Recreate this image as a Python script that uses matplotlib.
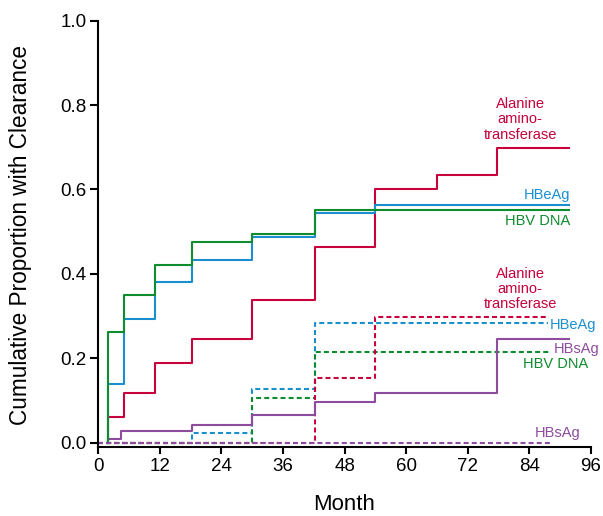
import matplotlib
matplotlib.use("Agg")
import matplotlib.pyplot as plt

plt.rcParams['font.family'] = ['Liberation Sans', 'DejaVu Sans']

# ---- data (months, cumulative proportion) ----
alt_solid_t = [1.8, 1.8, 5, 11, 18.2, 30, 42.2, 54, 66, 77.7, 91.8]
alt_solid_v = [0, 0.061, 0.117, 0.190, 0.246, 0.338, 0.463, 0.600, 0.635, 0.698, 0.698]
hbeag_solid_t = [1.8, 1.8, 5, 11, 18.2, 30, 42.2, 54, 91.8]
hbeag_solid_v = [0, 0.139, 0.292, 0.381, 0.434, 0.488, 0.545, 0.563, 0.563]
hbv_solid_t = [1.8, 1.8, 5, 11, 18.2, 30, 42.2, 91.8]
hbv_solid_v = [0, 0.262, 0.349, 0.422, 0.476, 0.495, 0.552, 0.552]
hbsag_solid_t = [1.8, 1.8, 4.5, 18.2, 30, 42.2, 54, 77.7, 91.8]
hbsag_solid_v = [0, 0.0095, 0.028, 0.041, 0.066, 0.096, 0.118, 0.245, 0.245]

hbeag_dash_t = [0, 18.2, 30, 42.3, 87.7]
hbeag_dash_v = [0, 0.024, 0.128, 0.284, 0.284]
hbv_dash_t = [0, 30, 42.2, 88.3]
hbv_dash_v = [0, 0.107, 0.214, 0.214]
alt_dash_t = [0, 42.2, 54, 87.9]
alt_dash_v = [0, 0.153, 0.297, 0.297]
hbsag_dash_t = [0, 88.5]
hbsag_dash_v = [0, 0]

x_ticks = [0, 12, 24, 36, 48, 60, 72, 84, 96]
y_ticks = [0.0, 0.2, 0.4, 0.6, 0.8, 1.0]
y_tick_labels = ['0.0', '0.2', '0.4', '0.6', '0.8', '1.0']

RED = '#C8003C'
BLUE = '#1A8FD0'
GREEN = '#0E8C2E'
PURPLE = '#8E4C9E'

W, H = 603, 516
fig = plt.figure(figsize=(W / 100, H / 100), dpi=100)
ax = fig.add_axes([98.3 / W, 1 - 446.7 / H, 492.7 / W, 426.0 / H])

lw = 1.5
dash = (2.4, 1.5)

ax.plot(hbeag_dash_t, hbeag_dash_v, drawstyle='steps-post', color=BLUE, lw=lw, dashes=dash)
ax.plot(hbv_dash_t, hbv_dash_v, drawstyle='steps-post', color=GREEN, lw=lw, dashes=dash)
ax.plot(alt_dash_t, alt_dash_v, drawstyle='steps-post', color=RED, lw=lw, dashes=dash)

ax.plot(hbsag_solid_t, hbsag_solid_v, drawstyle='steps-post', color=PURPLE, lw=lw)
ax.plot(alt_solid_t, alt_solid_v, drawstyle='steps-post', color=RED, lw=lw)
ax.plot(hbeag_solid_t, hbeag_solid_v, drawstyle='steps-post', color=BLUE, lw=lw)
ax.plot(hbv_solid_t, hbv_solid_v, drawstyle='steps-post', color=GREEN, lw=lw)

ax.plot(hbsag_dash_t, hbsag_dash_v, drawstyle='steps-post', color=PURPLE, lw=lw, dashes=dash)

ax.set_xlim(0, 96)
ax.set_ylim(-0.0095, 1.0)
ax.spines['top'].set_visible(False)
ax.spines['right'].set_visible(False)
for s in ('left', 'bottom'):
    ax.spines[s].set_linewidth(1.5)
ax.set_xticks(x_ticks)
ax.set_xticklabels([str(t) for t in x_ticks])
ax.set_yticks(y_ticks)
ax.set_yticklabels(y_tick_labels)
ax.tick_params(axis='x', direction='out', length=4.8, width=1.5, pad=3, labelsize=13.5)
ax.tick_params(axis='y', direction='out', length=5.5, width=1.5, pad=3, labelsize=13.5)

fs = 10.5
ax.text(82.2, 0.766, 'Alanine\namino-\ntransferase', color=RED, fontsize=fs,
        ha='center', va='center', linespacing=1.12)
ax.text(91.9, 0.587, 'HBeAg', color=BLUE, fontsize=fs, ha='right', va='center')
ax.text(91.9, 0.525, 'HBV DNA', color=GREEN, fontsize=fs, ha='right', va='center')

ax.text(82.2, 0.364, 'Alanine\namino-\ntransferase', color=RED, fontsize=fs,
        ha='center', va='center', linespacing=1.12)
ax.text(88.0, 0.278, 'HBeAg', color=BLUE, fontsize=fs, ha='left', va='center', clip_on=False)
ax.text(88.8, 0.222, 'HBsAg', color=PURPLE, fontsize=fs, ha='left', va='center', clip_on=False)
ax.text(82.7, 0.186, 'HBV DNA', color=GREEN, fontsize=fs, ha='left', va='center')
ax.text(85.0, 0.022, 'HBsAg', color=PURPLE, fontsize=fs, ha='left', va='center')

fig.text(21 / W, 1 - 235.5 / H, 'Cumulative Proportion with Clearance', rotation=90,
         ha='center', va='center', fontsize=16.3)
fig.text(344.5 / W, 1.5 / H, 'Month', ha='center', va='bottom', fontsize=16)

fig.savefig('out.png', dpi=100)
